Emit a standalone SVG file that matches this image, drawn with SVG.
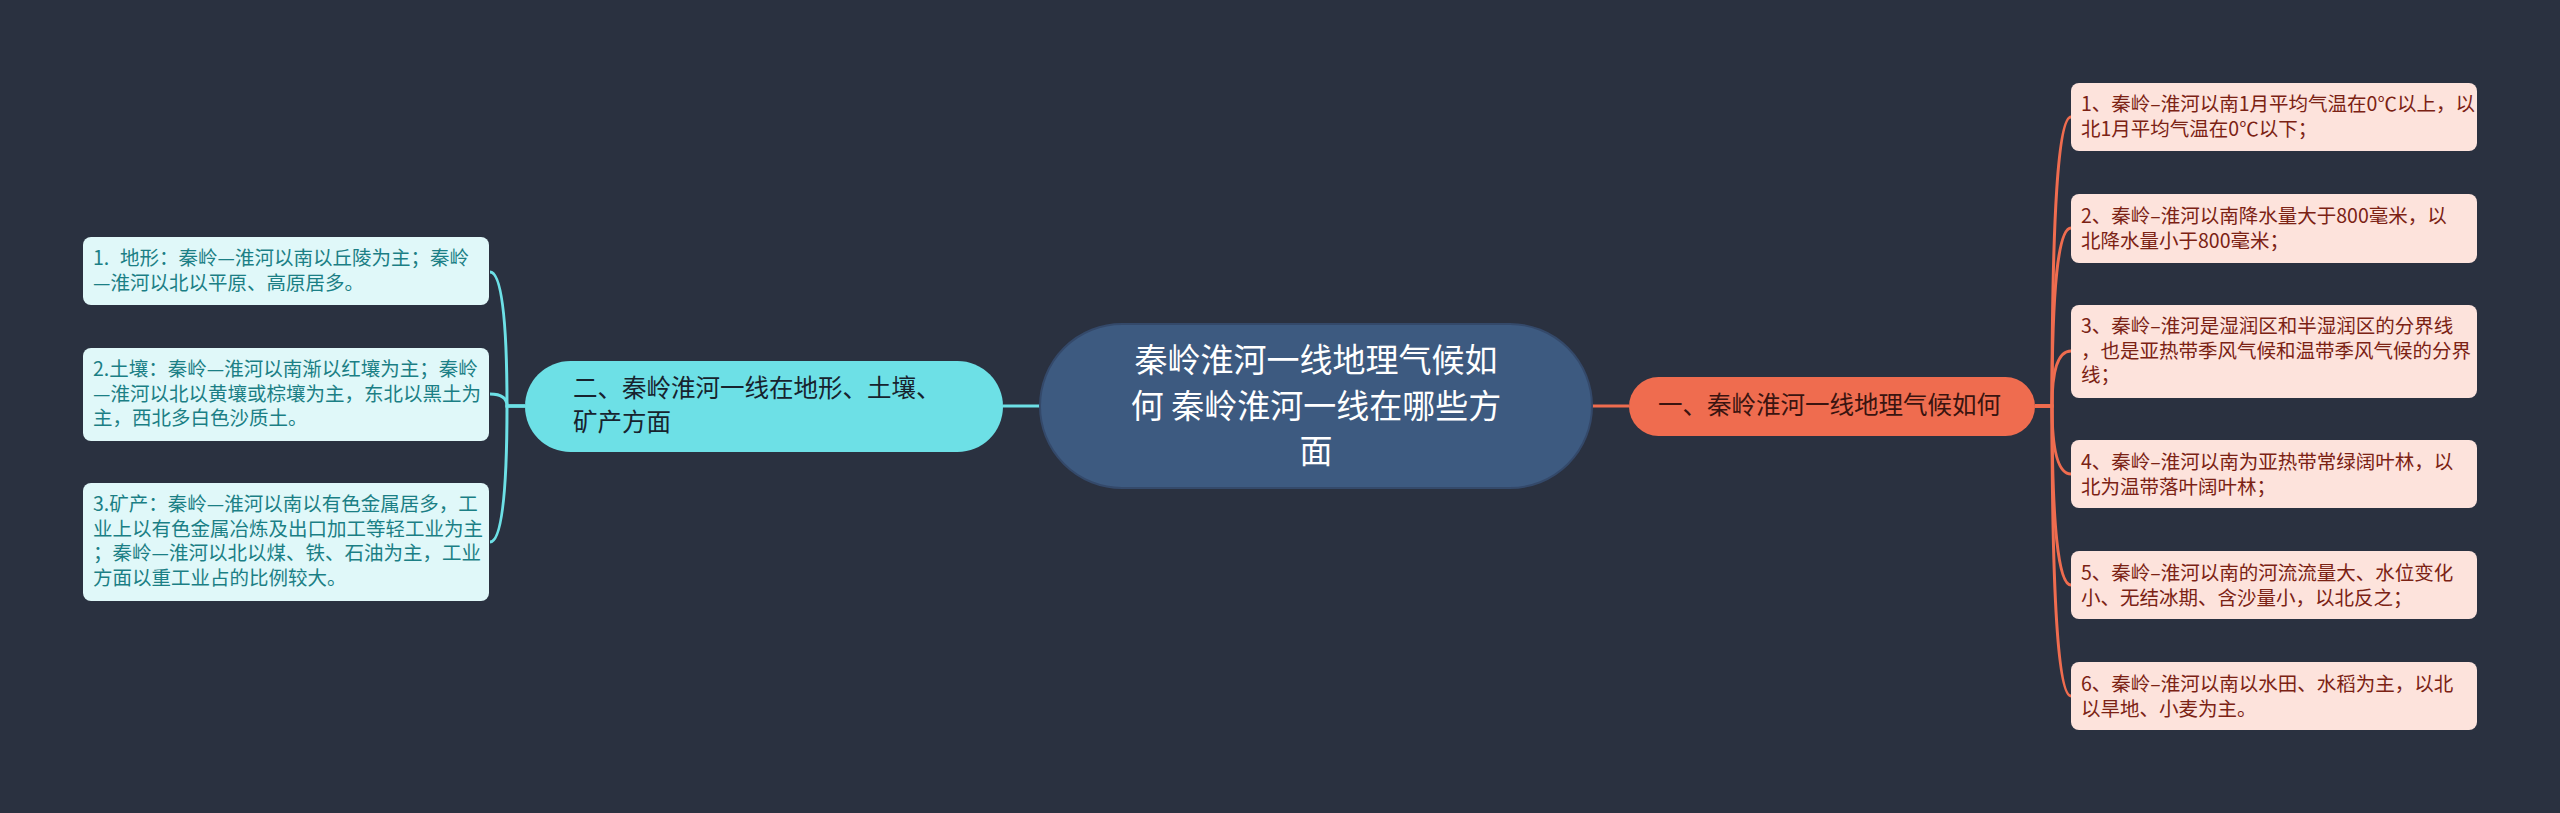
<svg xmlns="http://www.w3.org/2000/svg" width="2560" height="813" viewBox="0 0 2560 813">
<style>
text{font-family:"Noto Sans CJK SC","Noto Sans",sans-serif}
.bg{fill:#2a3140}
.cen{fill:#3d5a80;stroke:#34496a;stroke-width:2}
.cen-t{fill:#ffffff;font-size:33px}
.l1{fill:#6de0e6}
.l1-t{fill:#17232e;font-size:24.5px}
.r1{fill:#ef6c4f}
.r1-t{fill:#3a1410;font-size:24.5px}
.lb{fill:#e0f8f9}
.lb-t{fill:#1b7f85;font-size:19.5px}
.rb{fill:#fde3dc}
.rb-t{fill:#7b2214;font-size:19.5px}
.cc{fill:none;stroke:#6de0e6;stroke-width:3}
.co{fill:none;stroke:#ef6c4f;stroke-width:3}
</style>
<rect class="bg" x="0" y="0" width="2560" height="813"/>
<g id="connectors">
<path class="cc" d="M1003 406 L1040 406"/>
<path class="co" d="M1592 406 L1629 406"/>
<path class="cc" d="M525 406 L507 406 Q507 272 490 272"/>
<path class="cc" d="M525 406 L507 406 Q507 394 490 394"/>
<path class="cc" d="M525 406 L507 406 Q507 542 490 542"/>
<path class="co" d="M2035 406 L2052 406 Q2052 117 2071 117"/>
<path class="co" d="M2035 406 L2052 406 Q2052 228 2071 228"/>
<path class="co" d="M2035 406 L2052 406 Q2052 351 2071 351"/>
<path class="co" d="M2035 406 L2052 406 Q2052 474 2071 474"/>
<path class="co" d="M2035 406 L2052 406 Q2052 585 2071 585"/>
<path class="co" d="M2035 406 L2052 406 Q2052 696 2071 696"/>
</g>
<g id="center">
<rect class="cen" x="1040" y="324" width="552" height="164" rx="82"/>
<text class="cen-t" text-anchor="middle"><tspan x="1316" y="372">秦岭淮河一线地理气候如</tspan><tspan x="1316" y="418">何 秦岭淮河一线在哪些方</tspan><tspan x="1316" y="463">面</tspan></text>
</g>
<g id="left-main">
<rect class="l1" x="525" y="361" width="478" height="91" rx="45.5"/>
<text class="l1-t"><tspan x="573" y="397">二、秦岭淮河一线在地形、土壤、</tspan><tspan x="573" y="431">矿产方面</tspan></text>
</g>
<g id="right-main">
<rect class="r1" x="1629" y="377" width="406" height="59" rx="29.5"/>
<text class="r1-t"><tspan x="1658" y="414">一、秦岭淮河一线地理气候如何</tspan></text>
</g>
<g id="left-1">
<rect class="lb" x="83" y="237" width="406" height="68" rx="8"/>
<text class="lb-t"><tspan x="93" y="265">1.</tspan><tspan x="120" y="265">地形：秦岭—淮河以南以丘陵为主；秦岭</tspan><tspan x="93" y="290">—淮河以北以平原、高原居多。</tspan></text>
</g>
<g id="left-2">
<rect class="lb" x="83" y="348" width="406" height="93" rx="8"/>
<text class="lb-t"><tspan x="93" y="376">2.土壤：秦岭—淮河以南渐以红壤为主；秦岭</tspan><tspan x="93" y="401">—淮河以北以黄壤或棕壤为主，东北以黑土为</tspan><tspan x="93" y="425">主，西北多白色沙质土。</tspan></text>
</g>
<g id="left-3">
<rect class="lb" x="83" y="483" width="406" height="118" rx="8"/>
<text class="lb-t"><tspan x="93" y="511">3.矿产：秦岭—淮河以南以有色金属居多，工</tspan><tspan x="93" y="536">业上以有色金属冶炼及出口加工等轻工业为主</tspan><tspan x="93" y="560">；秦岭—淮河以北以煤、铁、石油为主，工业</tspan><tspan x="93" y="585">方面以重工业占的比例较大。</tspan></text>
</g>
<g id="right-1">
<rect class="rb" x="2071" y="83" width="406" height="68" rx="8"/>
<text class="rb-t"><tspan x="2081" y="111">1、秦岭–淮河以南1月平均气温在0℃以上，以</tspan><tspan x="2081" y="136">北1月平均气温在0℃以下；</tspan></text>
</g>
<g id="right-2">
<rect class="rb" x="2071" y="194" width="406" height="69" rx="8"/>
<text class="rb-t"><tspan x="2081" y="223">2、秦岭–淮河以南降水量大于800毫米，以</tspan><tspan x="2081" y="248">北降水量小于800毫米；</tspan></text>
</g>
<g id="right-3">
<rect class="rb" x="2071" y="305" width="406" height="93" rx="8"/>
<text class="rb-t"><tspan x="2081" y="333">3、秦岭–淮河是湿润区和半湿润区的分界线</tspan><tspan x="2081" y="358">，也是亚热带季风气候和温带季风气候的分界</tspan><tspan x="2081" y="382">线；</tspan></text>
</g>
<g id="right-4">
<rect class="rb" x="2071" y="440" width="406" height="68" rx="8"/>
<text class="rb-t"><tspan x="2081" y="469">4、秦岭–淮河以南为亚热带常绿阔叶林，以</tspan><tspan x="2081" y="494">北为温带落叶阔叶林；</tspan></text>
</g>
<g id="right-5">
<rect class="rb" x="2071" y="551" width="406" height="68" rx="8"/>
<text class="rb-t"><tspan x="2081" y="580">5、秦岭–淮河以南的河流流量大、水位变化</tspan><tspan x="2081" y="605">小、无结冰期、含沙量小，以北反之；</tspan></text>
</g>
<g id="right-6">
<rect class="rb" x="2071" y="662" width="406" height="68" rx="8"/>
<text class="rb-t"><tspan x="2081" y="691">6、秦岭–淮河以南以水田、水稻为主，以北</tspan><tspan x="2081" y="716">以旱地、小麦为主。</tspan></text>
</g>
</svg>
